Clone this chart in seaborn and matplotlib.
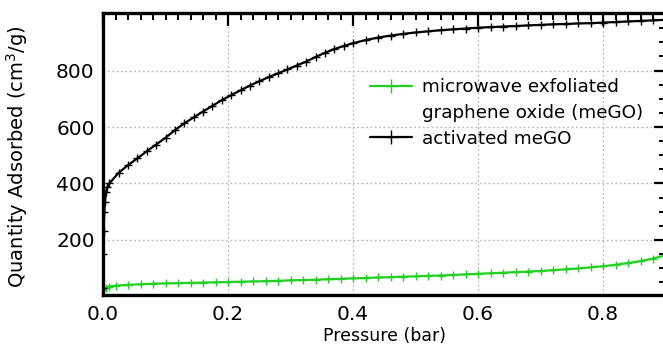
import matplotlib
matplotlib.use("Agg")
import matplotlib.pyplot as plt
import seaborn as sns
from matplotlib.lines import Line2D
from matplotlib.ticker import FixedLocator, MultipleLocator

# activated meGO (black)
act_p = [0.0, 0.0005, 0.001, 0.002, 0.003, 0.005, 0.007, 0.01, 0.025, 0.04, 0.055,
         0.07, 0.085, 0.10, 0.115, 0.13, 0.145, 0.16, 0.175, 0.19, 0.205, 0.22,
         0.235, 0.25, 0.265, 0.28, 0.295, 0.31, 0.325, 0.34, 0.355, 0.37, 0.385,
         0.40, 0.42, 0.44, 0.46, 0.48, 0.50, 0.52, 0.54, 0.56, 0.58, 0.60, 0.62,
         0.64, 0.66, 0.68, 0.70, 0.72, 0.74, 0.76, 0.78, 0.80, 0.82, 0.84, 0.86,
         0.88, 0.90]
act_q = [30, 150, 230, 300, 335, 370, 388, 400, 438, 465, 489,
         514, 538, 562, 589, 613, 634, 655, 675, 695, 713, 730,
         747, 762, 777, 790, 804, 818, 832, 848, 863, 876, 887,
         897, 908, 917, 924, 930, 935, 939, 943, 946, 949, 952, 954,
         956, 958, 960, 962, 964, 965, 967, 968, 970, 972, 974, 976,
         978, 980]

# microwave exfoliated graphene oxide (green)
mego_p = [0.0, 0.005, 0.01, 0.02, 0.04, 0.06, 0.08, 0.10, 0.12, 0.14, 0.16, 0.18,
          0.20, 0.22, 0.24, 0.26, 0.28, 0.30, 0.32, 0.34, 0.36, 0.38, 0.40, 0.42,
          0.44, 0.46, 0.48, 0.50, 0.52, 0.54, 0.56, 0.58, 0.60, 0.62, 0.64, 0.66,
          0.68, 0.70, 0.72, 0.74, 0.76, 0.78, 0.80, 0.82, 0.84, 0.86, 0.88, 0.90]
mego_q = [22, 30, 35, 38, 41, 43, 45, 46, 47, 48, 49, 50,
          51, 52, 53, 54, 55, 57, 58, 59, 61, 62, 64, 65,
          67, 68, 70, 71, 73, 74, 76, 78, 80, 82, 84, 86,
          88, 90, 93, 96, 99, 103, 107, 112, 118, 125, 134, 146]

x_ticks = [0.0, 0.2, 0.4, 0.6, 0.8]
y_ticks = [200, 400, 600, 800]

sns.set_style("white")
plt.rcParams['font.family'] = ['DejaVu Sans']
plt.rcParams['text.color'] = 'black'
plt.rcParams['axes.labelcolor'] = 'black'

fig = plt.figure(figsize=(6.63, 3.45), dpi=100)
ax = fig.add_axes([103 / 663, 1 - 295 / 345, 562.5 / 663, 282 / 345])

green = '#22d022'
sns.lineplot(x=mego_p, y=mego_q, ax=ax, color=green, lw=1.6, marker='+',
             markersize=5.5, mew=1.0, mec=green, sort=False)
sns.lineplot(x=act_p, y=act_q, ax=ax, color='black', lw=1.6, marker='+',
             markersize=5.5, mew=1.0, mec='black', sort=False)

ax.set_xlim(0, 0.9)
ax.set_ylim(5, 1004)
ax.xaxis.set_major_locator(FixedLocator(x_ticks))
ax.xaxis.set_minor_locator(MultipleLocator(0.02))
ax.yaxis.set_major_locator(FixedLocator(y_ticks))
ax.yaxis.set_minor_locator(MultipleLocator(50))
ax.set_xticklabels([f"{v:.1f}" for v in x_ticks])
ax.set_yticklabels([str(v) for v in y_ticks])

ax.grid(True, which='major', color='#b8b8b8', ls=(0, (1.5, 2)), lw=0.9)
for s in ax.spines.values():
    s.set_linewidth(2.4)
    s.set_color('black')
ax.tick_params(which='both', direction='in', top=True, right=True,
               colors='black', labelsize=14.5)
ax.tick_params(which='major', length=9, width=1.6)
ax.tick_params(which='minor', length=5, width=1.4)
ax.tick_params(axis='x', which='major', pad=7.5)
ax.tick_params(axis='y', which='major', pad=6)

ax.set_xlabel("Pressure (bar)", fontsize=12.5, color='black')
ax.set_ylabel("Quantity Adsorbed (cm$^3$/g)", fontsize=14, color='black')
ax.xaxis.set_label_coords(0.5, -0.113)
ax.yaxis.set_label_coords(-0.13, 0.49)

handles = [Line2D([], [], color=green, lw=1.6, marker='+', markersize=9.5, mew=1.0),
           Line2D([], [], color='none'),
           Line2D([], [], color='black', lw=1.6, marker='+', markersize=9.5, mew=1.0)]
labels = ["microwave exfoliated", "graphene oxide (meGO)", "activated meGO"]
leg = ax.legend(handles, labels, loc='upper left', bbox_to_anchor=(0.4747, 0.768),
                frameon=False, fontsize=13.2, handlelength=2.3, handletextpad=0.55,
                labelspacing=0.42, borderpad=0, borderaxespad=0)
for t in leg.get_texts():
    t.set_color('black')

fig.savefig("out.png", dpi=100)
